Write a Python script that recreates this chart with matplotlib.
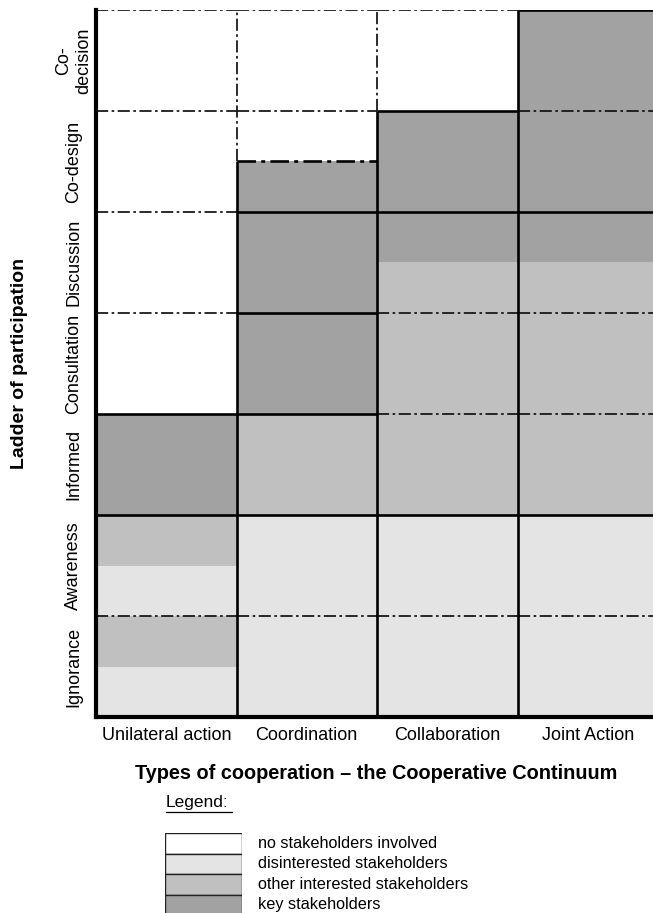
import numpy as np
import matplotlib
matplotlib.use("Agg")
import matplotlib.pyplot as plt
from matplotlib.colors import ListedColormap

plt.rcParams['font.family'] = ['Liberation Sans', 'DejaVu Sans']

# data
types = ["Unilateral action", "Coordination", "Collaboration", "Joint Action"]
levels = ["Ignorance", "Awareness", "Informed", "Consultation",
          "Discussion", "Co-design", "Co-\ndecision"]
legend_labels = ["no stakeholders involved", "disinterested stakeholders",
                 "other interested stakeholders", "key stakeholders"]
colors = ["#ffffff", "#e4e4e4", "#c0c0c0", "#a2a2a2"]

# fill of each half level, bottom to top (0 none, 1 disinterested, 2 other interested, 3 key)
unilateral = [1, 2, 1, 2, 3, 3, 0, 0, 0, 0, 0, 0, 0, 0]
coordination = [1, 1, 1, 1, 2, 2, 3, 3, 3, 3, 3, 0, 0, 0]
collaboration = [1, 1, 1, 1, 2, 2, 2, 2, 2, 3, 3, 3, 0, 0]
joint_action = [1, 1, 1, 1, 2, 2, 2, 2, 2, 3, 3, 3, 3, 3]

# borders between levels, per column
h_solid = [[2, 3], [2, 3, 4, 5], [2, 5, 6], [2, 5, 7]]
h_dashdot = [[1, 4, 5, 6, 7], [1, 6, 7], [1, 3, 4, 7], [1, 3, 4, 6]]
h_dashdot_heavy = [[], [5.5], [], []]
# column separators: solid up to this level, dash-dot above
v_solid_top = [5.5, 6, 7]

fig = plt.figure(figsize=(6.53, 9.13), dpi=100)
# right part of the last column runs off the picture, as in the original
ax = fig.add_axes([96 / 653, 196 / 913, 562 / 653, 707 / 913])

grid = np.array([unilateral, coordination, collaboration, joint_action]).T
xe = np.arange(len(types) + 1)
ye = np.arange(0, len(levels) + 0.5, 0.5)
ax.pcolormesh(xe, ye, grid, cmap=ListedColormap(colors), vmin=-0.5, vmax=3.5)

dd = (0, (7, 2, 1.5, 2))
for c in range(len(types)):
    for y in h_solid[c]:
        ax.hlines(y, c, c + 1, colors='black', linewidth=1.9, zorder=3)
    for y in h_dashdot[c]:
        ax.hlines(y, c, c + 1, colors='#111111', linewidth=1.25, linestyles=dd, zorder=2)
    for y in h_dashdot_heavy[c]:
        ax.hlines(y, c, c + 1, colors='black', linewidth=1.9, linestyles=dd, zorder=2)

for i, top in enumerate(v_solid_top):
    ax.vlines(i + 1, 0, top, colors='black', linewidth=1.9, zorder=3)
    if top < len(levels):
        ax.vlines(i + 1, top, len(levels), colors='#111111', linewidth=1.25, linestyles=dd, zorder=2)

ax.set_xlim(0, len(types))
ax.set_ylim(0, len(levels))
for s in ['top', 'right']:
    ax.spines[s].set_visible(False)
for s in ['left', 'bottom']:
    ax.spines[s].set_linewidth(3)
    ax.spines[s].set_zorder(4)

ax.set_xticks(np.arange(len(types)) + 0.5)
ax.set_xticklabels(types, fontsize=13)
ax.set_yticks(np.arange(len(levels)) + 0.5)
ax.set_yticklabels(levels, fontsize=13, rotation=90, ha='center', va='center',
                   multialignment='center')
ax.tick_params(axis='x', length=0, pad=7)
ax.tick_params(axis='y', length=0, pad=16)

ax.set_ylabel("Ladder of participation", fontsize=14, fontweight='bold', labelpad=20)
fig.text(376 / 653, 1 - 773 / 913, "Types of cooperation \u2013 the Cooperative Continuum",
         fontsize=14.3, fontweight='bold', ha='center', va='center')

# legend
fig.text(166 / 653, 1 - 802 / 913, "Legend:", fontsize=12.5, ha='left', va='center')
fig.add_artist(plt.Line2D([166 / 653, 232 / 653], [1 - 812 / 913, 1 - 812 / 913],
                          color='black', linewidth=0.9))

lax = fig.add_axes([165 / 653, -2 / 913, 77 / 653, 82 / 913])
lax.barh(np.arange(len(legend_labels)), 1, height=1, color=colors,
         edgecolor='#222222', linewidth=1.0)
lax.set_xlim(0, 1)
lax.set_ylim(len(legend_labels) - 0.5, -0.5)
lax.axis('off')
for i, lab in enumerate(legend_labels):
    lax.text(1.21, i, lab, fontsize=11.7, ha='left', va='center',
             transform=lax.get_yaxis_transform())

fig.savefig("out.png", dpi=100)
